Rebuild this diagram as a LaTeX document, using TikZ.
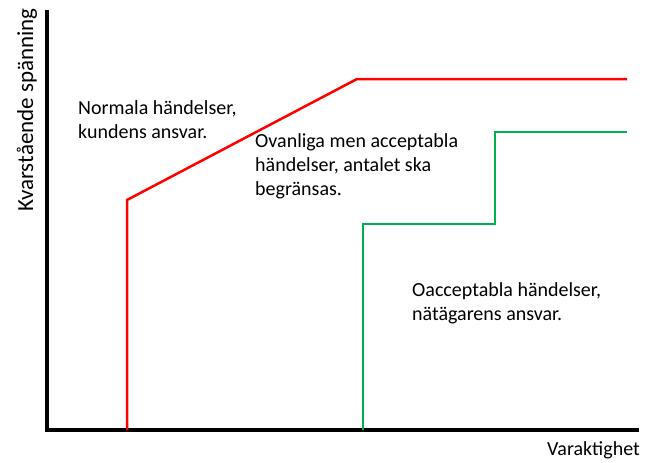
\documentclass[tikz,border=0pt]{standalone}
\usepackage{fontspec}
\setmainfont{Carlito}
\definecolor{limitred}{HTML}{FF0000}
\definecolor{limitgreen}{HTML}{00B050}
\begin{document}
\begin{tikzpicture}[x=1pt,y=-1pt,
  axis/.style={line width=4pt,black},
  redlim/.style={line width=2.5pt,limitred,line join=miter},
  greenlim/.style={line width=2.5pt,limitgreen,line join=miter},
  lbl/.style={inner sep=0pt,anchor=base west,align=left,font=\fontsize{20}{23.7}\selectfont}]
\useasboundingbox (0,0) rectangle (651,463);
% axes
\coordinate (ytop) at (47,10);
\coordinate (orig) at (47,430);
\coordinate (xend) at (639,430);
\draw[axis] (ytop) -- (orig) -- (xend);
% red limit
\coordinate (r0) at (127,430);
\coordinate (r1) at (127,200);
\coordinate (r2) at (357,79);
\coordinate (r3) at (627,79);
\draw[redlim] (r0) -- (r1) -- (r2) -- (r3);
% green limit
\coordinate (g0) at (363,430);
\coordinate (g1) at (363,224);
\coordinate (g2) at (495,224);
\coordinate (g3) at (495,132);
\coordinate (g4) at (627,132);
\draw[greenlim] (g0) -- (g1) -- (g2) -- (g3) -- (g4);
% labels (base anchor = baseline of the last line)
\node[inner sep=0pt,rotate=90,font=\fontsize{23}{27}\selectfont] (ylab) at (27,110) {Kvarstående spänning};
\node[inner sep=0pt,anchor=base east,font=\fontsize{20}{24}\selectfont] (xlab) at (640,455) {Varaktighet};
\node[lbl] (normal) at (78,138) {Normala händelser,\\kundens ansvar.};
\node[lbl] (ovanl) at (255,195) {Ovanliga men acceptabla\\händelser, antalet ska\\begränsas.};
\node[lbl] (oacc) at (412,320) {Oacceptabla händelser,\\nätägarens ansvar.};
\end{tikzpicture}
\end{document}
